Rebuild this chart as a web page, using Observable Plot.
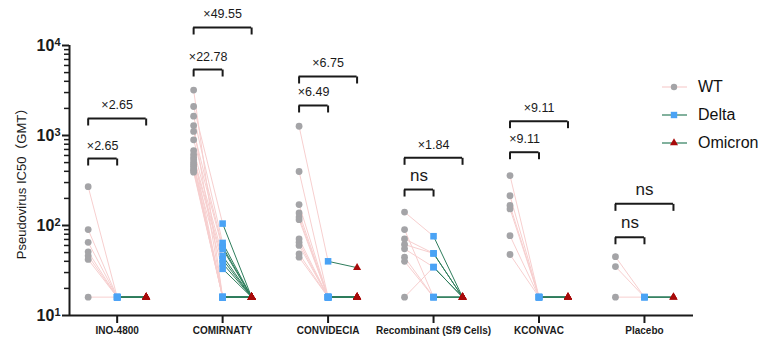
<!DOCTYPE html>
<html>
<head>
<meta charset="utf-8">
<script src="https://cdn.jsdelivr.net/npm/d3@7"></script>
<script src="https://cdn.jsdelivr.net/npm/@observablehq/plot@0.6"></script>
<style>
  html, body { margin: 0; padding: 0; background: #fff; }
  #wrap { position: relative; width: 763px; height: 340px; font-family: "Liberation Sans", Arial, "Noto Sans CJK SC", sans-serif; }
  .leg { position: absolute; left: 662px; height: 20px; display: flex; align-items: center; font-size: 16px; color: #111; }
  .leg svg { margin-right: 11px; }
</style>
</head>
<body>
<div id="wrap"></div>
<script>
// ---- data ----
const groups = ["INO-4800", "COMIRNATY", "CONVIDECIA", "Recombinant (Sf9 Cells)", "KCONVAC", "Placebo"];
const variants = ["WT", "Delta", "Omicron"];

const wtValues = [
  [270, 90, 65, 51, 46, 42, 16],
  [3200, 2100, 1640, 1290, 1110, 895, 680, 615, 570, 537, 500, 477, 455, 427, 410, 391],
  [1267, 398, 171, 138, 124, 116, 71, 65, 60, 48.5, 44.5],
  [141, 90, 71, 61.5, 55, 44.5, 40, 16],
  [359, 214, 167, 153, 77, 47.6],
  [45, 35, 16]
];
const deltaValues = [
  [16, 16, 16, 16, 16, 16, 16],
  [16, 105, 64, 16, 58, 55, 46, 16, 42, 38, 16, 16, 33, 16, 16, 16],
  [40, 16, 16, 16, 16, 16, 16, 16, 16, 16, 16],
  [76, 16, 49, 49, 34.5, 16, 16, 34.5],
  [16, 16, 16, 16, 16, 16],
  [16, 16, 16]
];
const omicronValues = [
  [16, 16, 16, 16, 16, 16, 16],
  [16, 16, 16, 16, 16, 16, 16, 16, 16, 16, 16, 16, 16, 16, 16, 16],
  [34, 16, 16, 16, 16, 16, 16, 16, 16, 16, 16],
  [16, 16, 16, 16, 16, 16, 16, 16],
  [16, 16, 16, 16, 16, 16],
  [16, 16, 16]
];

// comparison brackets: WT vs Delta (low) and WT vs Omicron (high)
const bracketLowLabels  = ["×2.65", "×22.78", "×6.49", "ns", "×9.11", "ns"];
const bracketLowY       = [555, 5410, 2155, 251, 652, 74];
const bracketHighLabels = ["×2.65", "×49.55", "×6.75", "×1.84", "×9.11", "ns"];
const bracketHighY      = [1545, 15850, 4525, 565, 1442, 174];

const majorTicks = [10, 100, 1000, 10000];

// ---- build tables ----
const off = 0.275; // horizontal offset of WT / Omicron columns within a group
const rows = [];
groups.forEach((g, gi) => wtValues[gi].forEach((w, k) => rows.push({
  group: gi, wt: w, delta: deltaValues[gi][k], omicron: omicronValues[gi][k]
})));

const brackets = groups.flatMap((g, gi) => [
  {x1: gi - off, x2: gi, y: bracketLowY[gi], label: bracketLowLabels[gi]},
  {x1: gi - off, x2: gi + off, y: bracketHighY[gi], label: bracketHighLabels[gi]}
]);
const bracketEnds = brackets.flatMap(b => [{x: b.x1, y: b.y}, {x: b.x2, y: b.y}]);

const minorTicks = [];
[10, 100, 1000].forEach(dec => { for (let m = 2; m <= 9; m++) minorTicks.push(dec * m); });

const bracketEnd = { draw(ctx) { ctx.moveTo(0, 0); ctx.lineTo(0, 7); } };

const xDomain = [-0.452, 5.465];
const ink = "#1a1a1a";
const pink = "#f7cfcf", green = "#2e7d5c", grey = "#a4a4a7", blue = "#4aa3f5", red = "#a80a0a";

const chart = Plot.plot({
  width: 763,
  height: 340,
  marginLeft: 69,
  marginRight: 70,
  marginTop: 45,
  marginBottom: 25,
  style: {fontFamily: "'Liberation Sans', Arial, 'Noto Sans CJK SC', sans-serif", color: ink, background: "white", overflow: "visible"},
  x: {type: "linear", domain: xDomain},
  y: {type: "log", domain: [10, 10000]},
  marks: [
    // connecting lines
    Plot.link(rows, {x1: d => d.group - off, y1: "wt", x2: d => d.group, y2: "delta", stroke: pink, strokeWidth: 1}),
    Plot.link(rows, {x1: d => d.group, y1: "delta", x2: d => d.group + off, y2: "omicron", stroke: green, strokeWidth: 1}),
    // points
    Plot.dot(rows, {x: d => d.group - off, y: "wt", r: 3.4, fill: grey, symbol: "circle"}),
    Plot.dot(rows, {x: d => d.group, y: "delta", r: 3.7, fill: blue, symbol: "square"}),
    Plot.dot(rows, {x: d => d.group + off, y: "omicron", r: 3.0, fill: red, symbol: "triangle"}),
    // brackets
    Plot.ruleY(brackets, {y: "y", x1: "x1", x2: "x2", stroke: ink, strokeWidth: 2}),
    Plot.dot(bracketEnds, {x: "x", y: "y", symbol: bracketEnd, r: 4, stroke: ink, strokeWidth: 2, fill: "none"}),
    Plot.text(brackets.filter(b => b.label !== "ns"), {x: d => (d.x1 + d.x2) / 2, y: "y", text: "label", lineAnchor: "bottom", dy: -9, fontSize: 12.5, fill: ink}),
    Plot.text(brackets.filter(b => b.label === "ns"), {x: d => (d.x1 + d.x2) / 2, y: "y", text: "label", lineAnchor: "bottom", dy: -9, fontSize: 17, fill: ink}),
    // axes
    Plot.ruleX([xDomain[0]], {stroke: ink, strokeWidth: 2}),
    Plot.ruleY([10], {stroke: ink, strokeWidth: 2}),
    Plot.axisY({ticks: minorTicks, tickSize: 5, strokeWidth: 1.5, tickFormat: () => "", label: null}),
    Plot.axisY({ticks: majorTicks, tickSize: 7, strokeWidth: 2, tickPadding: 2, fontSize: 16, fontWeight: "bold",
      tickFormat: d => "10^" + Math.round(Math.log10(d)), label: null}),
    Plot.axisX({ticks: groups.map((g, i) => i), tickFormat: i => groups[i], tickSize: 8, strokeWidth: 2, tickPadding: 3,
      fontSize: 10, fontWeight: "bold", label: null}),
    Plot.text(["Pseudovirus IC50（GMT）"], {frameAnchor: "left", textAnchor: "middle", rotate: -90, dx: -48, fontSize: 13, fill: ink})
  ]
});

// render "10^n" tick labels as 10 with a superscript exponent
chart.querySelectorAll("text").forEach(t => {
  const s = t.textContent;
  const m = /^10\^(\d)$/.exec(s);
  if (m && t.children.length === 0) {
    t.textContent = "10";
    const sup = document.createElementNS("http://www.w3.org/2000/svg", "tspan");
    sup.setAttribute("dy", "-0.45em");
    sup.setAttribute("font-size", "11");
    sup.textContent = m[1];
    t.appendChild(sup);
  }
});

const wrap = document.getElementById("wrap");
wrap.appendChild(chart);

// legend (right side)
const legendItems = [
  {name: variants[0], line: pink, marker: `<circle cx="12" cy="10" r="3.2" fill="${grey}"/>`},
  {name: variants[1], line: green, marker: `<rect x="8.8" y="6.8" width="6.4" height="6.4" fill="${blue}"/>`},
  {name: variants[2], line: green, marker: `<path d="${d3.symbol(d3.symbolTriangle, 3.0 * 3.0 * Math.PI)()}" transform="translate(12,10)" fill="${red}"/>`}
];
legendItems.forEach((it, i) => {
  const row = document.createElement("div");
  row.className = "leg";
  row.style.top = (77 + 28 * i) + "px";
  row.innerHTML = `<svg width="25" height="20"><line x1="0" x2="25" y1="10" y2="10" stroke="${it.line}" stroke-width="1.2"/>${it.marker}</svg><span>${it.name}</span>`;
  wrap.appendChild(row);
});
</script>
</body>
</html>
